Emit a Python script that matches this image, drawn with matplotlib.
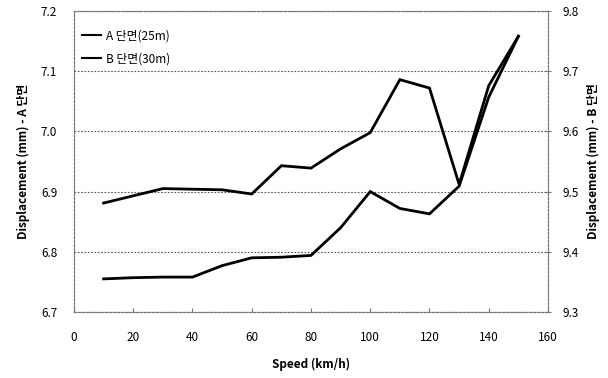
import matplotlib
matplotlib.use("Agg")
import matplotlib.pyplot as plt

plt.rcParams['font.family'] = ['Noto Sans CJK KR', 'DejaVu Sans']

speed = [10, 20, 30, 40, 50, 60, 70, 80, 90, 100, 110, 120, 130, 140, 150]
disp_a = [6.881, 6.893, 6.905, 6.904, 6.903, 6.896, 6.943, 6.939, 6.971, 6.998,
          7.086, 7.072, 6.912, 7.076, 7.158]
disp_b = [9.355, 9.357, 9.358, 9.358, 9.377, 9.390, 9.391, 9.394, 9.440, 9.500,
          9.472, 9.463, 9.509, 9.657, 9.758]

label_a = "A 단면(25m)"
label_b = "B 단면(30m)"
xticks = [0, 20, 40, 60, 80, 100, 120, 140, 160]
yticks_a = [6.7, 6.8, 6.9, 7.0, 7.1, 7.2]
yticks_b = [9.3, 9.4, 9.5, 9.6, 9.7, 9.8]

fig = plt.figure(figsize=(6.08, 3.78), dpi=100)
ax = fig.add_axes([0.1217, 0.1746, 0.7796, 0.7963])
ax2 = ax.twinx()

la, = ax.plot(speed, disp_a, color='black', lw=2.0, solid_joinstyle='miter')
lb, = ax2.plot(speed, disp_b, color='black', lw=2.0, solid_joinstyle='miter')

ax.set_xlim(0, 160)
ax.set_ylim(6.7, 7.2)
ax2.set_ylim(9.3, 9.8)
ax.set_xticks(xticks)
ax.set_yticks(yticks_a)
ax2.set_yticks(yticks_b)
ax.set_yticklabels([f"{v:.1f}" for v in yticks_a])
ax2.set_yticklabels([f"{v:.1f}" for v in yticks_b])

ax.grid(axis='y', color='#555555', lw=0.8, ls=(0, (1.5, 1.5)))
for a in (ax, ax2):
    for s in a.spines.values():
        s.set_color('#777777')
        s.set_linewidth(0.8)
        s.set_linestyle((0, (2, 1.5)))

ax.tick_params(axis='x', direction='in', length=3, color='#777777', pad=14, labelsize=8.5)
ax.tick_params(axis='y', length=0, pad=12, labelsize=8.5)
ax2.tick_params(axis='y', direction='inout', length=5, color='#777777', pad=8, labelsize=8.5)

ax.set_xlabel("Speed (km/h)", fontsize=8.5, fontweight='bold', labelpad=10)
ax.set_ylabel("Displacement (mm) - A 단면", fontsize=8.5, fontweight='bold', labelpad=8)
ax2.set_ylabel("Displacement (mm) - B 단면", fontsize=8.5, fontweight='bold', labelpad=6)

leg = ax.legend([la, lb], [label_a, label_b], loc='upper left', frameon=False,
                bbox_to_anchor=(-0.005, 0.975), handlelength=1.6, handletextpad=0.4,
                fontsize=8.5, labelspacing=0.85)
for h in leg.legend_handles:
    h.set_linewidth(1.5)

fig.savefig("out.png", dpi=100)
